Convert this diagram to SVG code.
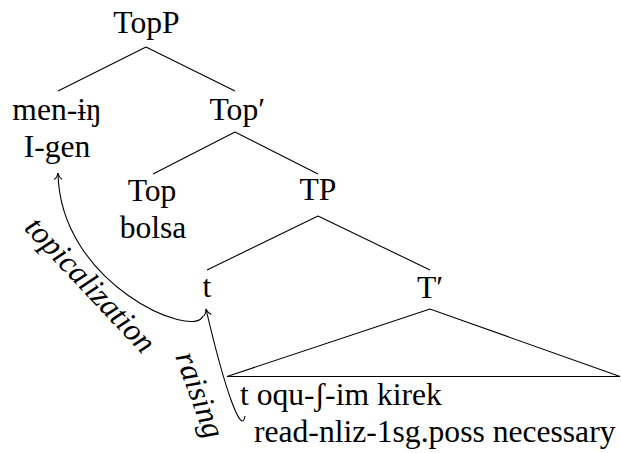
<svg xmlns="http://www.w3.org/2000/svg" width="621" height="453" viewBox="0 0 621 453" font-family="Liberation Serif" font-size="31.6">
<style>
text{fill:#000}
.m{text-anchor:middle}
.lbl{font-style:italic;text-anchor:middle}
.e{stroke:#000;stroke-width:1.1;fill:none}
</style>
<defs>
<marker id="tip" markerUnits="userSpaceOnUse" markerWidth="12" markerHeight="12" viewBox="-8 -6 10 12" refX="0" refY="0" orient="auto" overflow="visible">
<path d="M -6.5,-4 C -5,-1.6 -1.5,-0.3 0,0 C -1.5,0.3 -5,1.6 -6.5,4" stroke="#000" stroke-width="1" fill="none"/>
</marker>
</defs>
<rect width="621" height="453" fill="#fff"/>
<g id="connectors">
<path class="e" d="M146,47 L58,91 M146,47 L235,91"/>
<path class="e" d="M235,132 L153,174 M235,132 L318,174"/>
<path class="e" d="M318,216 L207,270 M318,216 L430,270"/>
<path class="e" d="M430,309 L227,376.5 L620,376.5 Z"/>
<path class="e" d="M203,316 C195,340 60,285 58,173" marker-end="url(#tip)"/>
<path class="e" d="M245,416 C242,436 226,395 206,309" marker-end="url(#tip)"/>
<text class="lbl" transform="translate(88,287) rotate(46.6)" y="7">topicalization</text>
<text class="lbl" transform="translate(197,396) rotate(70)" y="7">raising</text>
</g>
<g id="TopP"><text class="m" x="146.5" y="33">TopP</text></g>
<g id="men-in"><text class="m" x="57" y="120">men-ɨŋ</text><text class="m" x="57" y="157">I-gen</text></g>
<g id="TopBar"><text x="209.5" y="120">Top′</text></g>
<g id="Top"><text class="m" x="152" y="201">Top</text><text class="m" x="153" y="238">bolsa</text></g>
<g id="TP"><text class="m" x="318" y="200">TP</text></g>
<g id="t"><text class="m" x="207" y="297">t</text></g>
<g id="TBar"><text class="m" x="430" y="298">T′</text></g>
<g id="VP"><text x="240" y="405">t oqu-ʃ-im kirek</text><text x="254" y="441.5">read-nliz-1sg.poss necessary</text></g>
</svg>
